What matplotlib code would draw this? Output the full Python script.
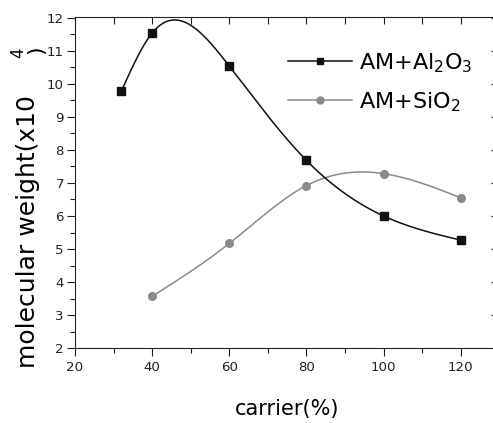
import numpy as np
import matplotlib
matplotlib.use("Agg")
import matplotlib.pyplot as plt
from matplotlib.ticker import MultipleLocator
from matplotlib.lines import Line2D

# ---- data ----
carrier_al = [32, 40, 60, 80, 100, 120]
mw_al = [9.77, 11.53, 10.53, 7.68, 6.00, 5.27]
carrier_si = [40, 60, 80, 100, 120]
mw_si = [3.57, 5.17, 6.92, 7.28, 6.55]
label_al = "AM+Al$_2$O$_3$"
label_si = "AM+SiO$_2$"
x_ticks = [20, 40, 60, 80, 100, 120]
y_ticks = [2, 3, 4, 5, 6, 7, 8, 9, 10, 11, 12]


def natural_spline(x, y, n=300):
    x = np.asarray(x, float)
    y = np.asarray(y, float)
    k = len(x)
    h = np.diff(x)
    A = np.zeros((k, k))
    b = np.zeros(k)
    A[0, 0] = 1
    A[-1, -1] = 1
    for i in range(1, k - 1):
        A[i, i - 1] = h[i - 1]
        A[i, i] = 2 * (h[i - 1] + h[i])
        A[i, i + 1] = h[i]
        b[i] = 6 * ((y[i + 1] - y[i]) / h[i] - (y[i] - y[i - 1]) / h[i - 1])
    M = np.linalg.solve(A, b)
    xs = np.linspace(x[0], x[-1], n)
    idx = np.clip(np.searchsorted(x, xs) - 1, 0, k - 2)
    x0, x1 = x[idx], x[idx + 1]
    hh = x1 - x0
    t0 = x1 - xs
    t1 = xs - x0
    ys = (M[idx] * t0**3 / (6 * hh) + M[idx + 1] * t1**3 / (6 * hh)
          + (y[idx] / hh - M[idx] * hh / 6) * t0
          + (y[idx + 1] / hh - M[idx + 1] * hh / 6) * t1)
    return xs, ys


W, H = 493, 423
fig = plt.figure(figsize=(W / 100, H / 100), dpi=100)
plt.rcParams['font.family'] = ['DejaVu Sans']

left, right_px, top_px, bot_px = 75, 499.3, 17.5, 348.3
ax = fig.add_axes([left / W, 1 - bot_px / H, (right_px - left) / W, (bot_px - top_px) / H])

black = "#111111"
gray = "#8a8a8a"

xs, ys = natural_spline(carrier_al, mw_al)
ax.plot(xs, ys, color=black, lw=1.1, zorder=3)
ax.plot(carrier_al, mw_al, ls="none", marker="s", ms=5.5, color=black, zorder=4)
xs2, ys2 = natural_spline(carrier_si, mw_si)
ax.plot(xs2, ys2, color=gray, lw=1.1, zorder=2)
ax.plot(carrier_si, mw_si, ls="none", marker="o", ms=5.5, color=gray, zorder=4)

ax.set_xlim(20, 130)
ax.set_ylim(2, 12)
ax.set_xticks(x_ticks)
ax.set_yticks(y_ticks)
ax.xaxis.set_minor_locator(MultipleLocator(10))
ax.yaxis.set_minor_locator(MultipleLocator(0.5))
ax.tick_params(which="major", direction="out", length=6, width=0.8, labelsize=9.6,
               colors="#222222", pad=2)
ax.tick_params(which="minor", direction="out", length=3.5, width=0.8, colors="#222222")
ax.tick_params(axis="x", which="major", pad=3)
for s in ax.spines.values():
    s.set_color("#222222")
    s.set_linewidth(0.8)

sec_x = ax.secondary_xaxis("top")
sec_x.set_xticks(np.arange(20, 131, 10))
sec_x.tick_params(direction="in", length=5, width=0.8, labeltop=False, colors="#222222")
sec_x.spines["top"].set_visible(False)
sec_y = ax.secondary_yaxis("right")
sec_y.set_yticks(np.arange(2, 13, 1))
sec_y.tick_params(direction="in", length=6, width=0.8, labelright=False, colors="#222222")
sec_y.spines["right"].set_visible(False)

ax.set_xlabel("carrier(%)", fontsize=15, labelpad=18)

# y label (split as in the reference)
fig.text(28 / W, 1 - 368 / H, "molecular weight(x10", rotation=90, ha="center",
         va="bottom", fontsize=18)
fig.text(18 / W, 1 - 53 / H, "4", rotation=90, ha="center", va="center", fontsize=12)
fig.text(36 / W, 1 - 50 / H, ")", rotation=90, ha="center", va="center", fontsize=16)

h1 = Line2D([], [], color=black, lw=1.1, marker="s", ms=5)
h2 = Line2D([], [], color=gray, lw=1.1, marker="o", ms=5)
ax.legend([h1, h2], [label_al, label_si], loc="upper left",
          bbox_to_anchor=(288 / W, 1 - 51 / H), bbox_transform=fig.transFigure,
          frameon=False, fontsize=16, handlelength=2.9, handletextpad=0.3,
          borderpad=0, borderaxespad=0, labelspacing=0.7, numpoints=1)

fig.savefig("out.png", dpi=100)
